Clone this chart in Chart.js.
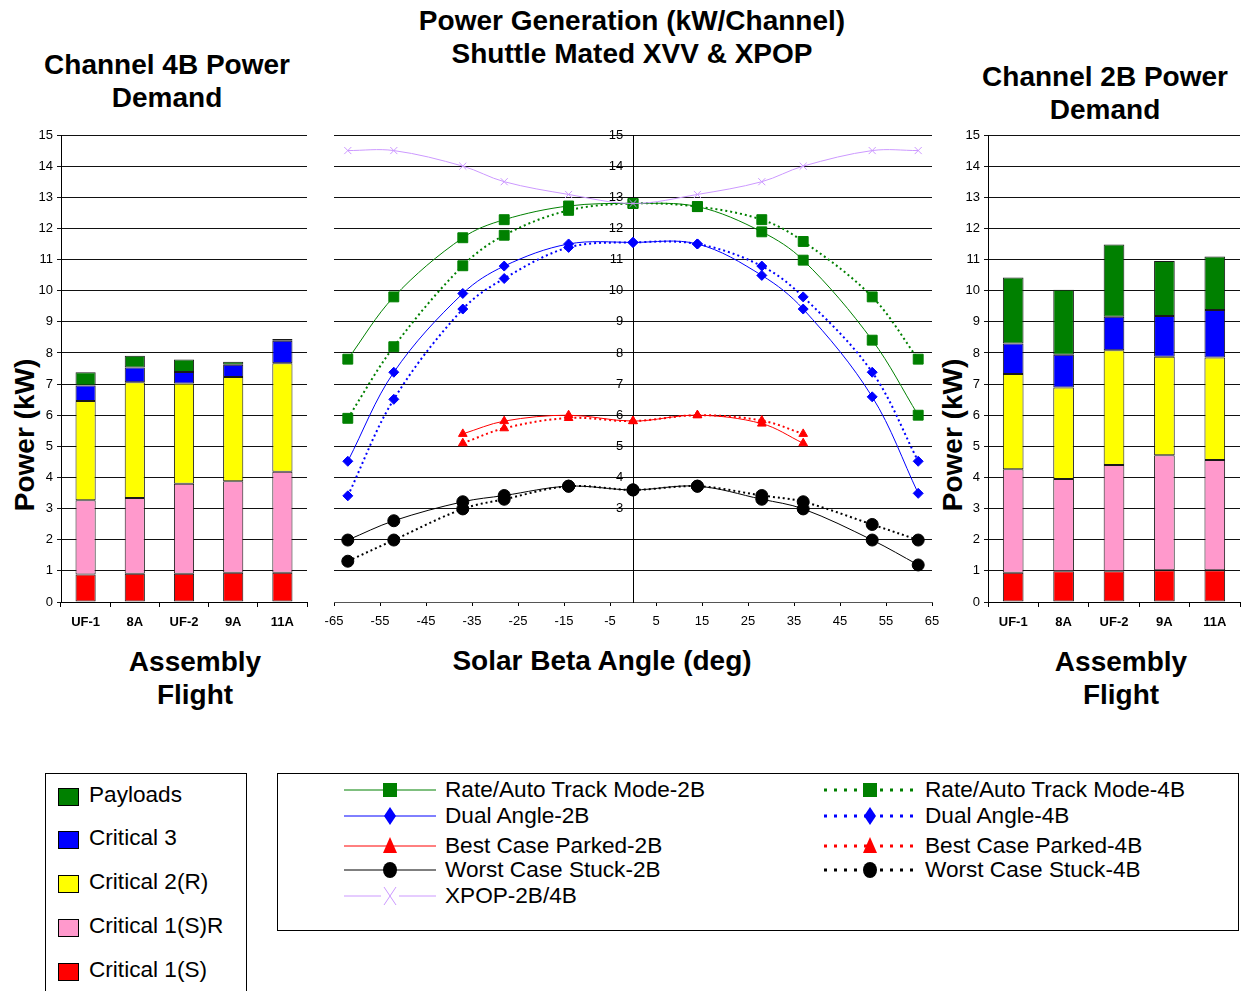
<!DOCTYPE html>
<html>
<head>
<meta charset="utf-8">
<script src="https://cdn.jsdelivr.net/npm/chart.js@4.4.1/dist/chart.umd.min.js"></script>
<style>
  html, body { margin: 0; padding: 0; background: #fff; }
  body { width: 1244px; height: 991px; overflow: hidden; position: relative; font-family: "Liberation Sans", Arial, sans-serif; color: #000; }
  canvas { position: absolute; }
  .t { position: absolute; font-weight: bold; font-size: 28px; text-align: center; line-height: 33px; white-space: nowrap; }
  .rot { position: absolute; font-weight: bold; font-size: 28px; white-space: nowrap; transform: rotate(-90deg); transform-origin: center center; }
  .box { position: absolute; border: 1px solid #000; background: #fff; }
  .li { position: absolute; font-size: 22.6px; line-height: 26px; white-space: nowrap; }
  .sw { position: absolute; width: 19px; height: 16px; border: 1px solid #000; }
  svg { position: absolute; overflow: visible; }
</style>
</head>
<body>
<script>
// ---------- DATA ----------
const flights = ['UF-1', '8A', 'UF-2', '9A', '11A'];
const barSeriesNames = ['Critical 1(S)', 'Critical 1(S)R', 'Critical 2(R)', 'Critical 3', 'Payloads'];

// Channel 4B power demand (kW, stacked segments)
const ch4B_crit1S  = [0.88, 0.91, 0.91, 0.94, 0.94];
const ch4B_crit1SR = [2.39, 2.43, 2.89, 2.94, 3.24];
const ch4B_crit2R  = [3.19, 3.72, 3.22, 3.35, 3.49];
const ch4B_crit3   = [0.49, 0.47, 0.37, 0.39, 0.72];
const ch4B_payload = [0.43, 0.38, 0.40, 0.10, 0.06];

// Channel 2B power demand (kW, stacked segments)
const ch2B_crit1S  = [0.94, 0.99, 0.99, 1.02, 1.02];
const ch2B_crit1SR = [3.32, 2.96, 3.41, 3.69, 3.54];
const ch2B_crit2R  = [3.06, 2.94, 3.69, 3.17, 3.29];
const ch2B_crit3   = [0.98, 1.05, 1.07, 1.31, 1.53];
const ch2B_payload = [2.12, 2.09, 2.32, 1.76, 1.72];

// Power generation vs solar beta angle
const betaAngles = [-62, -52, -37, -28, -14, 0, 14, 28, 37, 52, 62];
const rate2B  = [7.8, 9.8, 11.7, 12.28, 12.72, 12.8, 12.7, 11.89, 10.98, 8.41, 6.0];
const rate4B  = [5.9, 8.2, 10.8, 11.78, 12.58, 12.8, 12.7, 12.28, 11.58, 9.8, 7.8];
const dual2B  = [4.52, 7.38, 9.91, 10.79, 11.5, 11.55, 11.5, 10.49, 9.41, 6.59, 3.49];
const dual4B  = [3.41, 6.51, 9.41, 10.39, 11.39, 11.55, 11.5, 10.79, 9.8, 7.38, 4.52];
const best2B  = [null, null, 5.4, 5.81, 6.0, 5.81, 6.0, 5.73, 5.1, null, null];
const best4B  = [null, null, 5.1, 5.58, 5.91, 5.81, 6.0, 5.83, 5.4, null, null];
const worst2B = [1.99, 2.61, 3.22, 3.42, 3.72, 3.6, 3.72, 3.3, 2.99, 1.99, 1.19];
const worst4B = [1.31, 1.99, 2.99, 3.3, 3.72, 3.6, 3.72, 3.42, 3.22, 2.49, 1.99];
const xpop    = [14.5, 14.5, 14.0, 13.5, 13.09, 12.8, 13.09, 13.5, 14.0, 14.5, 14.5];

const powerTicks = [0, 15, 1];       // min, max, step (kW)
const betaTicks = [-65, 65, 10];     // min, max, step (deg)
</script>

<!-- titles -->
<div class="t" style="left:17px; width:300px; top:48px;">Channel 4B Power<br>Demand</div>
<div class="t" style="left:382px; width:500px; top:4px;">Power Generation (kW/Channel)<br>Shuttle Mated XVV &amp; XPOP</div>
<div class="t" style="left:955px; width:300px; top:60px;">Channel 2B Power<br>Demand</div>
<div class="t" style="left:45px; width:300px; top:645px;">Assembly<br>Flight</div>
<div class="t" style="left:452px; width:300px; top:644px;">Solar Beta Angle (deg)</div>
<div class="t" style="left:971px; width:300px; top:645px;">Assembly<br>Flight</div>
<div class="rot" style="left:-55px; top:419px; width:160px; text-align:center;">Power (kW)</div>
<div class="rot" style="left:873px; top:419px; width:160px; text-align:center;">Power (kW)</div>

<canvas id="c4b" width="320" height="530" style="left:0px; top:120px;"></canvas>
<canvas id="cgen" width="625" height="530" style="left:320px; top:120px;"></canvas>
<canvas id="c2b" width="314" height="530" style="left:930px; top:120px;"></canvas>

<!-- bar legend -->
<div class="box" style="left:45px; top:773px; width:200px; height:240px;"></div>
<div id="barLegend"></div>

<!-- line legend -->
<div class="box" style="left:277px; top:773px; width:960px; height:156px;"></div>
<div id="lineLegend"></div>

<script>
Chart.defaults.font.family = '"Liberation Sans", Arial, sans-serif';
Chart.defaults.color = '#000';
Chart.defaults.animation = false;

const barColors = ['#FF0000', '#FF99CC', '#FFFF00', '#0000FF', '#008000'];

function barChart(id, segs, yWidth, pads) {
  return new Chart(document.getElementById(id), {
    type: 'bar',
    data: {
      labels: flights,
      datasets: segs.map((d, i) => ({
        label: barSeriesNames[i], data: d, backgroundColor: barColors[i],
        borderColor: '#1a1a1a', borderWidth: 1, borderSkipped: false,
        categoryPercentage: 1.0, barPercentage: 0.41
      }))
    },
    options: {
      responsive: false, devicePixelRatio: 1,
      layout: { padding: pads },
      plugins: { legend: { display: false }, tooltip: { enabled: false } },
      scales: {
        x: {
          stacked: true,
          grid: { offset: true, drawOnChartArea: false, tickLength: 5, color: '#000' },
          border: { color: '#000' },
          ticks: { font: { size: 13, weight: 'bold' }, padding: 8, maxRotation: 0 },
          afterFit: s => { s.height = 48; }
        },
        y: {
          stacked: true, min: powerTicks[0], max: powerTicks[1],
          ticks: { stepSize: powerTicks[2], font: { size: 13 }, padding: 4 },
          grid: { color: '#111', tickLength: 4 },
          border: { color: '#000' },
          afterFit: s => { s.width = yWidth; }
        }
      }
    }
  });
}

barChart('c4b', [ch4B_crit1S, ch4B_crit1SR, ch4B_crit2R, ch4B_crit3, ch4B_payload], 61, { top: 15, right: 13, left: 0, bottom: 0 });
barChart('c2b', [ch2B_crit1S, ch2B_crit1SR, ch2B_crit2R, ch2B_crit3, ch2B_payload], 58, { top: 15, right: 4, left: 0, bottom: 0 });

// line chart
const DOT = [2, 3];
const lineDefs = [
  { label: 'XPOP-2B/4B', data: xpop, color: '#CC99FF', style: 'crossRot', dash: [], w: 1, r: 5 },
  { label: 'Rate/Auto Track Mode-2B', data: rate2B, color: '#008000', style: 'rect', dash: [], w: 1, r: 7 },
  { label: 'Rate/Auto Track Mode-4B', data: rate4B, color: '#008000', style: 'rect', dash: DOT, w: 2, r: 7 },
  { label: 'Dual Angle-2B', data: dual2B, color: '#0000FF', style: 'rectRot', dash: [], w: 1, r: 5 },
  { label: 'Dual Angle-4B', data: dual4B, color: '#0000FF', style: 'rectRot', dash: DOT, w: 2, r: 5 },
  { label: 'Best Case Parked-2B', data: best2B, color: '#FF0000', style: 'triangle', dash: [], w: 1, r: 5 },
  { label: 'Best Case Parked-4B', data: best4B, color: '#FF0000', style: 'triangle', dash: DOT, w: 2, r: 5 },
  { label: 'Worst Case Stuck-2B', data: worst2B, color: '#000000', style: 'circle', dash: [], w: 1, r: 6 },
  { label: 'Worst Case Stuck-4B', data: worst4B, color: '#000000', style: 'circle', dash: DOT, w: 2, r: 6 }
];

new Chart(document.getElementById('cgen'), {
  type: 'line',
  data: {
    datasets: lineDefs.map(d => ({
      label: d.label,
      data: betaAngles.map((x, i) => ({ x: x, y: d.data[i] })),
      borderColor: d.color, backgroundColor: d.color,
      borderWidth: d.w, borderDash: d.dash,
      pointStyle: d.style, pointRadius: d.r, pointBorderWidth: 1,
      pointBorderColor: d.color, pointBackgroundColor: d.color,
      tension: 0.35, spanGaps: false, fill: false
    }))
  },
  options: {
    responsive: false, devicePixelRatio: 1,
    layout: { padding: { top: 15, left: 14, right: 13, bottom: 0 } },
    plugins: { legend: { display: false }, tooltip: { enabled: false } },
    scales: {
      x: {
        type: 'linear', min: betaTicks[0], max: betaTicks[1],
        ticks: { stepSize: betaTicks[2], font: { size: 13 }, padding: 8 },
        grid: { drawOnChartArea: false, tickLength: 4, color: '#000' },
        border: { color: '#555' },
        afterFit: s => { s.height = 48; s.paddingLeft = 0; s.paddingRight = 0; }
      },
      y: {
        position: { x: 0 },
        min: powerTicks[0], max: powerTicks[1],
        ticks: { stepSize: powerTicks[2], font: { size: 13 }, padding: 4,
                 callback: v => (v >= 3 ? String(v) + '  \u2009' : '') },
        grid: { color: '#111', tickLength: 6 },
        border: { color: '#000' },
        afterFit: s => { s.paddingTop = 0; s.paddingBottom = 0; }
      }
    }
  }
});

// ---------- HTML legends ----------
const barLegendItems = [
  { name: 'Payloads', color: barColors[4], y: 795 },
  { name: 'Critical 3', color: barColors[3], y: 838 },
  { name: 'Critical 2(R)', color: barColors[2], y: 882 },
  { name: 'Critical 1(S)R', color: barColors[1], y: 926 },
  { name: 'Critical 1(S)', color: barColors[0], y: 970 }
];
const bl = document.getElementById('barLegend');
barLegendItems.forEach(it => {
  const s = document.createElement('div'); s.className = 'sw';
  s.style.left = '58px'; s.style.top = (it.y - 7) + 'px'; s.style.background = it.color;
  bl.appendChild(s);
  const t = document.createElement('div'); t.className = 'li';
  t.style.left = '89px'; t.style.top = (it.y - 13) + 'px'; t.textContent = it.name;
  bl.appendChild(t);
});

function markerSVG(style, color) {
  switch (style) {
    case 'rect': return `<rect x="-7" y="-7" width="14" height="14" fill="${color}"/>`;
    case 'rectRot': return `<polygon points="0,-9 6,0 0,9 -6,0" fill="${color}"/>`;
    case 'triangle': return `<polygon points="0,-9 7,7 -7,7" fill="${color}"/>`;
    case 'circle': return `<ellipse cx="0" cy="0" rx="7" ry="8" fill="${color}"/>`;
    case 'crossRot': return `<path d="M-6,-9 L6,9 M6,-9 L-6,9" stroke="${color}" stroke-width="1"/>`;
  }
  return '';
}
const lineLegendLayout = [
  { i: 1, x: 344, text: 445, y: 790 },
  { i: 3, x: 344, text: 445, y: 816 },
  { i: 5, x: 344, text: 445, y: 846 },
  { i: 7, x: 344, text: 445, y: 870 },
  { i: 0, x: 344, text: 445, y: 896 },
  { i: 2, x: 824, text: 925, y: 790 },
  { i: 4, x: 824, text: 925, y: 816 },
  { i: 6, x: 824, text: 925, y: 846 },
  { i: 8, x: 824, text: 925, y: 870 }
];
const ll = document.getElementById('lineLegend');
lineLegendLayout.forEach(p => {
  const d = lineDefs[p.i];
  const dotted = d.dash.length > 0;
  const svg = document.createElementNS('http://www.w3.org/2000/svg', 'svg');
  svg.setAttribute('width', '92'); svg.setAttribute('height', '24');
  svg.style.left = p.x + 'px'; svg.style.top = (p.y - 12) + 'px';
  const lineAttr = dotted
    ? `stroke="${d.color}" stroke-width="3" stroke-dasharray="3,7"`
    : `stroke="${d.color}" stroke-width="1"`;
  const gap = d.style === 'crossRot' ? 9 : 0;
  svg.innerHTML = `<line x1="0" y1="12" x2="${46 - gap}" y2="12" ${lineAttr}/>` +
                  `<line x1="${46 + gap}" y1="12" x2="92" y2="12" ${lineAttr}/>` +
                  `<g transform="translate(46,12)">${markerSVG(d.style, d.color)}</g>`;
  ll.appendChild(svg);
  const t = document.createElement('div'); t.className = 'li';
  t.style.left = p.text + 'px'; t.style.top = (p.y - 13) + 'px'; t.textContent = d.label;
  ll.appendChild(t);
});
</script>
</body>
</html>
